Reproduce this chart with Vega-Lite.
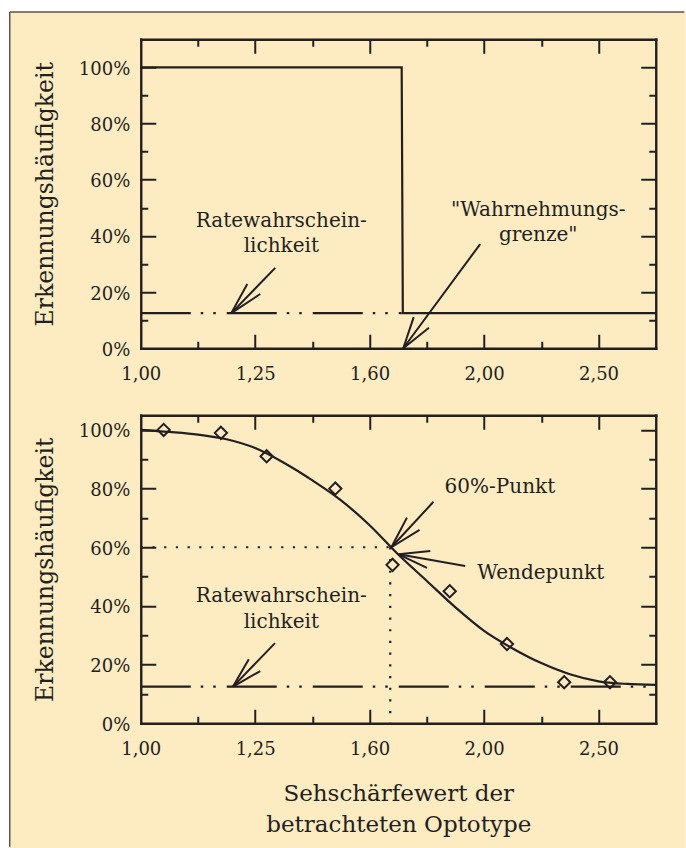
{
  "$schema": "https://vega.github.io/schema/vega-lite/v6.json",
  "background": "white",
  "padding": {"left": 8.75, "top": 10.25, "right": 0, "bottom": 0},
  "bounds": "flush",
  "spacing": 67,
  "config": {
    "view": {"stroke": null},
    "font": "DejaVu Serif",
    "axis": {"domain": false, "ticks": false, "labels": false, "grid": false, "zindex": 1, "tickColor": "#231F20", "tickWidth": 2, "domainColor": "#231F20", "domainWidth": 2.4, "domainCap": "square", "labelFont": "DejaVu Serif", "labelFontSize": 18, "labelColor": "#231F20", "labelFlush": false, "titleFont": "DejaVu Serif", "titleFontSize": 22, "titleFontWeight": "normal", "titleColor": "#231F20"},
    "text": {"font": "DejaVu Serif", "fontSize": 20, "color": "#231F20"}
  },
  "datasets": {
    "frame": [{"x1": -1.1447, "x2": 4.762, "y1": 119.72, "y2": -178.1}],
    "border": [{"x1": -1.1447, "y1": 119.72, "x2": -1.1447, "y2": -177.5}, {"x1": -1.1447, "y1": 119.72, "x2": 4.75, "y2": 119.72}],
    "step": [{"x": 0, "y": 100}, {"x": 2.28, "y": 100}, {"x": 2.29, "y": 12.5}, {"x": 4.5, "y": 12.5}],
    "guessTop": [{"x": 0, "y": 12.5}, {"x": 2.28, "y": 12.5}],
    "arrowsTop": [
      {"x": 1.175, "y": 28.6, "x2": 0.791, "y2": 12.5},
      {"x": 0.931, "y": 22.9, "x2": 0.791, "y2": 12.5},
      {"x": 1.044, "y": 19.3, "x2": 0.791, "y2": 12.5},
      {"x": 2.966, "y": 37.1, "x2": 2.294, "y2": 0},
      {"x": 2.385, "y": 11.1, "x2": 2.294, "y2": 0},
      {"x": 2.518, "y": 7.3, "x2": 2.294, "y2": 0}
    ],
    "textTop": [
      {"x": 1.228, "y": 43.2, "t": "Ratewahrschein-"},
      {"x": 1.228, "y": 34.4, "t": "lichkeit"},
      {"x": 3.473, "y": 47.1, "t": "\"Wahrnehmungs-"},
      {"x": 3.473, "y": 38.2, "t": "grenze\""}
    ],
    "curve": [
      {"x": 0, "y": 100}, {"x": 0.25, "y": 99.3}, {"x": 0.5, "y": 98.4}, {"x": 0.75, "y": 96.8}, {"x": 1.0, "y": 93.8}, {"x": 1.25, "y": 88.8}, {"x": 1.5, "y": 82.8}, {"x": 1.75, "y": 76}, {"x": 2.0, "y": 67.5}, {"x": 2.25, "y": 57.5}, {"x": 2.5, "y": 48.5}, {"x": 2.75, "y": 39.5}, {"x": 3.0, "y": 31.5}, {"x": 3.25, "y": 25.5}, {"x": 3.5, "y": 20.5}, {"x": 3.75, "y": 16.7}, {"x": 4.0, "y": 14.3}, {"x": 4.25, "y": 13.4}, {"x": 4.5, "y": 13.1}
    ],
    "points": [
      {"x": 0.2, "y": 100}, {"x": 0.7, "y": 99}, {"x": 1.1, "y": 91}, {"x": 1.7, "y": 80}, {"x": 2.2, "y": 54}, {"x": 2.7, "y": 45}, {"x": 3.2, "y": 27}, {"x": 3.7, "y": 14}, {"x": 4.1, "y": 14}
    ],
    "guessBottom": [{"x": 0, "y": 12.5}, {"x": 4.5, "y": 12.5}],
    "dotted": [{"x": 0, "x2": 2.18, "y": 60, "y2": 60}, {"x": 2.18, "x2": 2.18, "y": 60, "y2": 0}],
    "arrowsBottom": [
      {"x": 2.558, "y": 75.5, "x2": 2.19, "y2": 60},
      {"x": 2.326, "y": 70.1, "x2": 2.19, "y2": 60},
      {"x": 2.436, "y": 65.9, "x2": 2.19, "y2": 60},
      {"x": 2.835, "y": 53.6, "x2": 2.253, "y2": 57.6},
      {"x": 2.53, "y": 58.7, "x2": 2.253, "y2": 57.6},
      {"x": 2.501, "y": 53.0, "x2": 2.253, "y2": 57.6},
      {"x": 1.173, "y": 27.3, "x2": 0.806, "y2": 12.5},
      {"x": 0.944, "y": 21.8, "x2": 0.806, "y2": 12.5},
      {"x": 1.044, "y": 17.8, "x2": 0.806, "y2": 12.5}
    ],
    "textBottom": [
      {"x": 1.228, "y": 41.35, "t": "Ratewahrschein-"},
      {"x": 1.228, "y": 32.6, "t": "lichkeit"},
      {"x": 3.138, "y": 78.6, "t": "60%-Punkt"},
      {"x": 3.495, "y": 49.2, "t": "Wendepunkt"}
    ]
  },
  "vconcat": [
    {
      "width": 515,
      "height": 309,
      "resolve": {"axis": {"x": "independent", "y": "independent"}},
      "layer": [
        {
          "data": {"name": "frame"},
          "mark": {"type": "rect", "fill": "#FDEBC2", "clip": false},
          "encoding": {
            "x": {"field": "x1", "type": "quantitative", "scale": {"domain": [0, 4.5], "nice": false, "zero": false}, "axis": null},
            "x2": {"field": "x2"},
            "y": {"field": "y1", "type": "quantitative", "scale": {"domain": [0, 110], "nice": false, "zero": false}, "axis": null},
            "y2": {"field": "y2"}
          }
        },
        {
          "data": {"name": "border"},
          "mark": {"type": "rule", "stroke": "#5a5550", "strokeWidth": 1.5, "clip": false},
          "encoding": {
            "x": {"field": "x1", "type": "quantitative", "scale": {"domain": [0, 4.5], "nice": false, "zero": false}, "axis": null},
            "x2": {"field": "x2"},
            "y": {"field": "y1", "type": "quantitative", "scale": {"domain": [0, 110], "nice": false, "zero": false}, "axis": null},
            "y2": {"field": "y2"}
          }
        },
        {
          "data": {"name": "step"},
          "mark": {"type": "line", "stroke": "#231F20", "strokeWidth": 2.2},
          "encoding": {
            "x": {"field": "x", "type": "quantitative", "scale": {"domain": [0, 4.5], "nice": false, "zero": false},
                  "axis": {"orient": "bottom", "zindex": 1, "values": [0, 1, 2, 3, 4], "labels": true, "labelFlush": false, "labelExpr": "['1,00','1,25','1,60','2,00','2,50'][datum.value]", "labelPadding": 17, "title": null}},
            "y": {"field": "y", "type": "quantitative", "scale": {"domain": [0, 110], "nice": false, "zero": false},
                  "axis": {"orient": "left", "zindex": 1, "values": [0, 20, 40, 60, 80, 100], "labels": true, "labelFlush": false, "labelOffset": 2, "labelExpr": "datum.value + '%'", "labelPadding": 11, "title": "Erkennungshäufigkeit", "titleFontSize": 23.5, "titlePadding": 21}}
          }
        },
        {
          "data": {"name": "guessTop"},
          "mark": {"type": "line", "stroke": "#231F20", "strokeWidth": 2.2, "strokeDash": [50, 10, 2.5, 10, 2.5, 11]},
          "encoding": {
            "x": {"field": "x", "type": "quantitative", "scale": {"domain": [0, 4.5], "nice": false, "zero": false},
                  "axis": {"orient": "bottom", "zindex": 1, "values": [1, 2, 3, 4], "ticks": true, "tickSize": -14, "domain": true, "title": null}},
            "y": {"field": "y", "type": "quantitative", "scale": {"domain": [0, 110], "nice": false, "zero": false},
                  "axis": {"orient": "left", "zindex": 1, "values": [20, 40, 60, 80, 100], "ticks": true, "tickSize": -15, "domain": true, "title": null}}
          }
        },
        {
          "data": {"name": "arrowsTop"},
          "mark": {"type": "rule", "stroke": "#231F20", "strokeWidth": 2},
          "encoding": {
            "x": {"field": "x", "type": "quantitative", "scale": {"domain": [0, 4.5], "nice": false, "zero": false},
                  "axis": {"orient": "bottom", "zindex": 1, "values": [0.5, 1.5, 2.5, 3.5], "ticks": true, "tickSize": -7, "title": null}},
            "x2": {"field": "x2"},
            "y": {"field": "y", "type": "quantitative", "scale": {"domain": [0, 110], "nice": false, "zero": false},
                  "axis": {"orient": "left", "zindex": 1, "values": [10, 30, 50, 70, 90], "ticks": true, "tickSize": -7, "title": null}},
            "y2": {"field": "y2"}
          }
        },
        {
          "data": {"name": "textTop"},
          "mark": {"type": "text", "align": "center", "baseline": "alphabetic"},
          "encoding": {
            "x": {"field": "x", "type": "quantitative", "scale": {"domain": [0, 4.5], "nice": false, "zero": false},
                  "axis": {"orient": "top", "zindex": 1, "values": [1, 2, 3, 4], "ticks": true, "tickSize": -14, "domain": true, "title": null}},
            "y": {"field": "y", "type": "quantitative", "scale": {"domain": [0, 110], "nice": false, "zero": false},
                  "axis": {"orient": "right", "zindex": 1, "values": [20, 40, 60, 80, 100], "ticks": true, "tickSize": -15, "domain": true, "title": null}},
            "text": {"field": "t"}
          }
        },
        {
          "data": {"name": "textTop"},
          "mark": {"type": "text", "opacity": 0},
          "encoding": {
            "x": {"field": "x", "type": "quantitative", "scale": {"domain": [0, 4.5], "nice": false, "zero": false},
                  "axis": {"orient": "top", "zindex": 1, "values": [0.5, 1.5, 2.5, 3.5], "ticks": true, "tickSize": -7, "title": null}},
            "y": {"field": "y", "type": "quantitative", "scale": {"domain": [0, 110], "nice": false, "zero": false},
                  "axis": {"orient": "right", "zindex": 1, "values": [10, 30, 50, 70, 90], "ticks": true, "tickSize": -7, "title": null}},
            "text": {"field": "t"}
          }
        }
      ]
    },
    {
      "width": 515,
      "height": 308,
      "resolve": {"axis": {"x": "independent", "y": "independent"}},
      "layer": [
        {
          "data": {"name": "curve"},
          "mark": {"type": "line", "stroke": "#231F20", "strokeWidth": 2.2, "interpolate": "monotone"},
          "encoding": {
            "x": {"field": "x", "type": "quantitative", "scale": {"domain": [0, 4.5], "nice": false, "zero": false},
                  "axis": {"orient": "bottom", "zindex": 1, "values": [0, 1, 2, 3, 4], "labels": true, "labelFlush": false, "labelExpr": "['1,00','1,25','1,60','2,00','2,50'][datum.value]", "labelPadding": 17, "title": ["Sehschärfewert der", "betrachteten Optotype"], "titleFontSize": 23, "titlePadding": 24, "titleLineHeight": 31}},
            "y": {"field": "y", "type": "quantitative", "scale": {"domain": [0, 105], "nice": false, "zero": false},
                  "axis": {"orient": "left", "zindex": 1, "values": [0, 20, 40, 60, 80, 100], "labels": true, "labelFlush": false, "labelOffset": 2, "labelExpr": "datum.value + '%'", "labelPadding": 11, "title": "Erkennungshäufigkeit", "titleFontSize": 23.5, "titlePadding": 21}}
          }
        },
        {
          "data": {"name": "points"},
          "mark": {"type": "point", "shape": "diamond", "filled": false, "size": 150, "strokeWidth": 2, "color": "#231F20", "opacity": 1},
          "encoding": {
            "x": {"field": "x", "type": "quantitative", "scale": {"domain": [0, 4.5], "nice": false, "zero": false},
                  "axis": {"orient": "bottom", "zindex": 1, "values": [1, 2, 3, 4], "ticks": true, "tickSize": -14, "domain": true, "title": null}},
            "y": {"field": "y", "type": "quantitative", "scale": {"domain": [0, 105], "nice": false, "zero": false},
                  "axis": {"orient": "left", "zindex": 1, "values": [20, 40, 60, 80, 100], "ticks": true, "tickSize": -15, "domain": true, "title": null}}
          }
        },
        {
          "data": {"name": "guessBottom"},
          "mark": {"type": "line", "stroke": "#231F20", "strokeWidth": 2.2, "strokeDash": [50, 10, 2.5, 10, 2.5, 11]},
          "encoding": {
            "x": {"field": "x", "type": "quantitative", "scale": {"domain": [0, 4.5], "nice": false, "zero": false},
                  "axis": {"orient": "bottom", "zindex": 1, "values": [0.5, 1.5, 2.5, 3.5], "ticks": true, "tickSize": -7, "title": null}},
            "y": {"field": "y", "type": "quantitative", "scale": {"domain": [0, 105], "nice": false, "zero": false},
                  "axis": {"orient": "left", "zindex": 1, "values": [10, 30, 50, 70, 90], "ticks": true, "tickSize": -7, "title": null}}
          }
        },
        {
          "data": {"name": "dotted"},
          "mark": {"type": "rule", "stroke": "#231F20", "strokeWidth": 2.2, "strokeDash": [2.2, 9.5]},
          "encoding": {
            "x": {"field": "x", "type": "quantitative", "scale": {"domain": [0, 4.5], "nice": false, "zero": false},
                  "axis": {"orient": "top", "zindex": 1, "values": [1, 2, 3, 4], "ticks": true, "tickSize": -14, "domain": true, "title": null}},
            "x2": {"field": "x2"},
            "y": {"field": "y", "type": "quantitative", "scale": {"domain": [0, 105], "nice": false, "zero": false},
                  "axis": {"orient": "right", "zindex": 1, "values": [20, 40, 60, 80, 100], "ticks": true, "tickSize": -15, "domain": true, "title": null}},
            "y2": {"field": "y2"}
          }
        },
        {
          "data": {"name": "arrowsBottom"},
          "mark": {"type": "rule", "stroke": "#231F20", "strokeWidth": 2},
          "encoding": {
            "x": {"field": "x", "type": "quantitative", "scale": {"domain": [0, 4.5], "nice": false, "zero": false},
                  "axis": {"orient": "top", "zindex": 1, "values": [0.5, 1.5, 2.5, 3.5], "ticks": true, "tickSize": -7, "title": null}},
            "x2": {"field": "x2"},
            "y": {"field": "y", "type": "quantitative", "scale": {"domain": [0, 105], "nice": false, "zero": false},
                  "axis": {"orient": "right", "zindex": 1, "values": [10, 30, 50, 70, 90], "ticks": true, "tickSize": -7, "title": null}},
            "y2": {"field": "y2"}
          }
        },
        {
          "data": {"name": "textBottom"},
          "mark": {"type": "text", "align": "center", "baseline": "alphabetic"},
          "encoding": {
            "x": {"field": "x", "type": "quantitative", "scale": {"domain": [0, 4.5], "nice": false, "zero": false}, "axis": null},
            "y": {"field": "y", "type": "quantitative", "scale": {"domain": [0, 105], "nice": false, "zero": false}, "axis": null},
            "text": {"field": "t"}
          }
        }
      ]
    }
  ]
}
